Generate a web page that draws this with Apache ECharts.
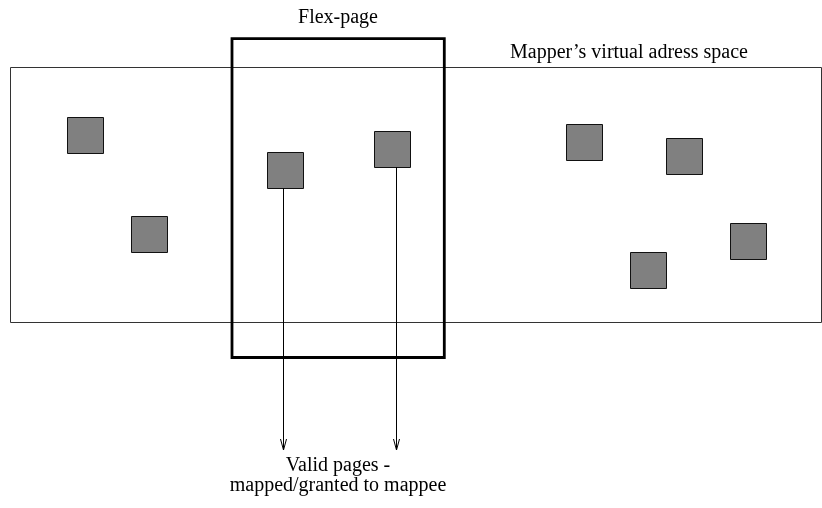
<!DOCTYPE html>
<html>
<head>
<meta charset="utf-8">
<script src="https://cdn.jsdelivr.net/npm/echarts@6/dist/echarts.min.js"></script>
<style>
html,body{margin:0;padding:0;background:#fff;}
#chart{width:822px;height:508px;}
</style>
</head>
<body>
<div id="chart"></div>
<script>
// Diagram data (in diagram units, mapped through the axes)
const pageCenters = [[85,135],[149,234],[285,170],[392,149],[584,142],[684,156],[748,241],[648,270]];
const addressSpace = [[10.5,67.5],[821.5,322.5]];
const flexPage = [[232,38.7],[444.3,357.5]];
const arrowStarts = [[283.5,188],[396.5,167]];
const arrowEndY = 450;
const labels = [
  [338,18,'Flex-page'],
  [629,53,'Mapper\u2019s virtual adress space'],
  [338,466,'Valid pages -'],
  [338,486,'mapped/granted to mappee']
];

const FONT = '20px "Liberation Serif", "Times New Roman", serif';

const chart = echarts.init(document.getElementById('chart'), null, {renderer:'canvas'});
chart.setOption({
  animation:false,
  backgroundColor:'#fff',
  grid:{left:0,right:0,top:0,bottom:0},
  xAxis:{type:'value',min:0,max:822,show:false},
  yAxis:{type:'value',min:0,max:508,inverse:true,show:false},
  series:[
    {
      type:'custom', name:'address space', data:[addressSpace], z:1,
      renderItem:function(params, api){
        const a = api.coord(addressSpace[0]), b = api.coord(addressSpace[1]);
        return {type:'rect', shape:{x:a[0],y:a[1],width:b[0]-a[0],height:b[1]-a[1]},
          style:{fill:null, stroke:'#333', lineWidth:1}};
      }
    },
    {
      type:'custom', name:'pages', data:pageCenters, z:2,
      renderItem:function(params, api){
        const c = [api.value(0), api.value(1)];
        const a = api.coord([c[0]-18, c[1]-18]), b = api.coord([c[0]+18, c[1]+18]);
        return {type:'rect', shape:{x:Math.round(a[0])+0.5,y:Math.round(a[1])+0.5,width:b[0]-a[0],height:b[1]-a[1]},
          style:{fill:'#808080', stroke:'#111', lineWidth:1}};
      }
    },
    {
      type:'custom', name:'flex page', data:[flexPage], z:3,
      renderItem:function(params, api){
        const a = api.coord(flexPage[0]), b = api.coord(flexPage[1]);
        return {type:'rect', shape:{x:a[0],y:a[1],width:b[0]-a[0],height:b[1]-a[1]},
          style:{fill:null, stroke:'#000', lineWidth:2.8}};
      }
    },
    {
      type:'custom', name:'arrows', data:arrowStarts, z:4,
      renderItem:function(params, api){
        const s = api.coord([api.value(0), api.value(1)]);
        const e = api.coord([api.value(0), arrowEndY]);
        return {type:'group', children:[
          {type:'line', shape:{x1:s[0],y1:s[1],x2:e[0],y2:e[1]}, style:{stroke:'#000',lineWidth:1}},
          {type:'polyline', shape:{points:[[e[0]-3,e[1]-11],[e[0],e[1]],[e[0]+3,e[1]-11]]}, style:{stroke:'#000',lineWidth:1,fill:null}}
        ]};
      }
    },
    {
      type:'custom', name:'labels', data:labels.map(l=>[l[0],l[1]]), z:5,
      renderItem:function(params, api){
        const p = api.coord([api.value(0), api.value(1)]);
        return {type:'text', x:p[0], y:p[1],
          style:{text:labels[params.dataIndex][2], font:FONT, fill:'#000', align:'center', verticalAlign:'middle'}};
      }
    }
  ]
});
</script>
</body>
</html>
